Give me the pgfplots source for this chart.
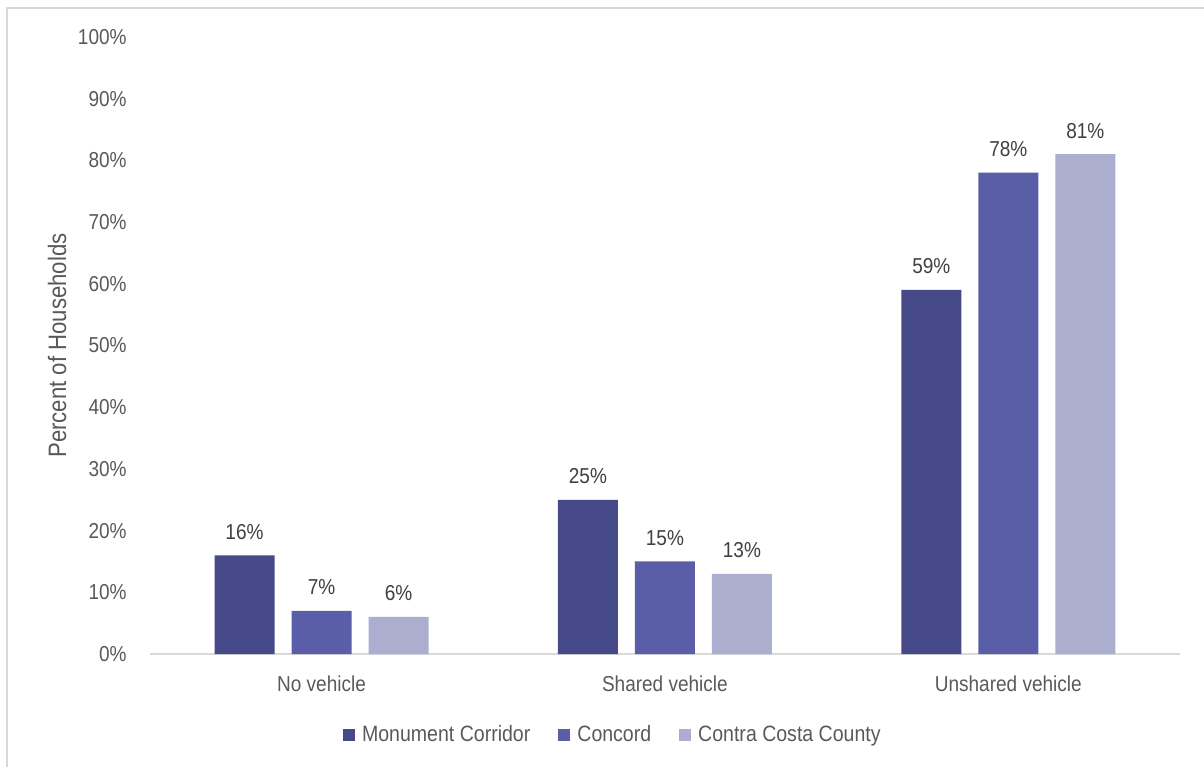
\documentclass[border=0pt]{standalone}
\usepackage{pgfplots}
\pgfplotsset{compat=1.18}
\usepackage{fontspec}
\setmainfont{Liberation Sans}[FakeStretch=0.88]

\definecolor{cMonument}{HTML}{474A89}
\definecolor{cConcord}{HTML}{5A5DA8}
\definecolor{cCounty}{HTML}{ABAECF}
\definecolor{txtgray}{HTML}{595959}
\definecolor{lblgray}{HTML}{404040}
\definecolor{linegray}{HTML}{D9D9D9}

\begin{document}
\begin{tikzpicture}[font=\fontsize{10.8pt}{13pt}\selectfont]
  \useasboundingbox (0,0) rectangle (602pt,383.5pt);
  % chart area frame (left and top edges)
  \draw[linegray, line width=1pt] (3.5pt,0pt) -- (3.5pt,379.5pt) -- (602pt,379.5pt);
  \begin{axis}[
    at={(74.9pt,56.5pt)}, anchor=south west,
    scale only axis,
    width=515.1pt, height=308.5pt,
    ybar, bar width=30pt,
    xmin=-0.5, xmax=2.5,
    ymin=0, ymax=100,
    xtick={0,1,2},
    xticklabels={No vehicle, Shared vehicle, Unshared vehicle},
    ytick={0,10,...,100},
    yticklabel={\pgfmathprintnumber{\tick}\%},
    /pgf/number format/assume math mode=true,
    axis x line*=bottom, axis y line*=left,
    x axis line style={draw=linegray, line width=1pt, -},
    y axis line style={draw=none},
    major tick length=0pt,
    tick style={draw=none},
    yticklabel style={text=txtgray, anchor=east, inner sep=0pt, xshift=-11.4pt},
    xticklabel style={text=txtgray, anchor=north, inner sep=0pt, yshift=-10.5pt},
    ylabel={Percent of Households},
    ylabel style={at={(axis description cs:-0.090,0.5)}, anchor=center,
      text=txtgray, font=\fontsize{12.6pt}{15pt}\selectfont},
    nodes near coords={\pgfmathprintnumber{\pgfplotspointmeta}\%},
    every node near coord/.append style={text=lblgray, anchor=base, inner sep=0pt, yshift=8pt},
    legend style={at={(0.450,-0.131)}, anchor=center, draw=none, fill=none,
      legend columns=-1, text=txtgray,
      font=\fontsize{11.1pt}{13pt}\selectfont,
      /tikz/every odd column/.append style={column sep=2pt},
      /tikz/every even column/.append style={column sep=12.5pt},
      nodes={inner sep=1.5pt}},
    legend image code/.code={\fill[#1] (0pt,-3pt) rectangle (6pt,3pt);},
  ]
    \addplot[fill=cMonument, draw=none, bar shift=-38.5pt] coordinates {(0,16) (1,25) (2,59)};
    \addplot[fill=cConcord, draw=none, bar shift=0pt] coordinates {(0,7) (1,15) (2,78)};
    \addplot[fill=cCounty, draw=none, bar shift=38.5pt] coordinates {(0,6) (1,13) (2,81)};
    \legend{Monument Corridor, Concord, Contra Costa County}
  \end{axis}
\end{tikzpicture}
\end{document}
